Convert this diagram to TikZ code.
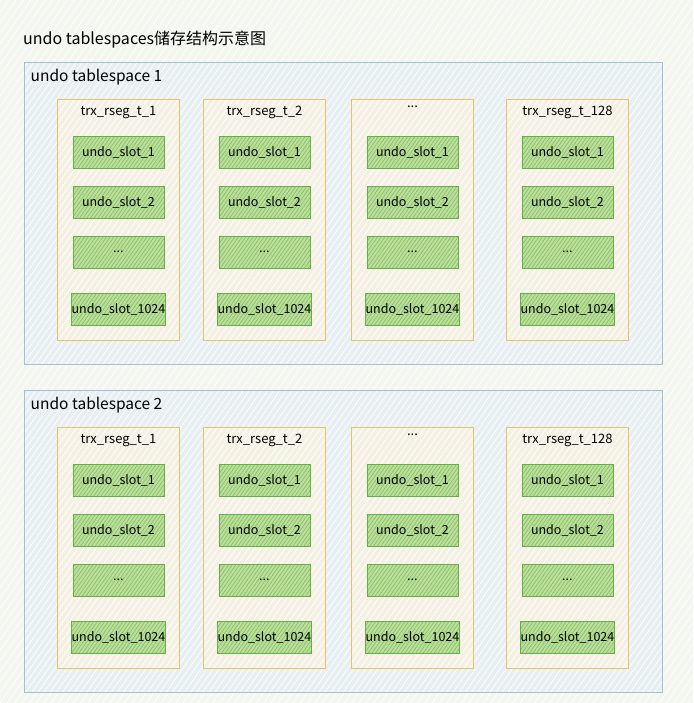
\documentclass[tikz,border=0pt]{standalone}
\usepackage{fontspec}
\setmainfont{Noto Sans CJK SC}
\usetikzlibrary{positioning,patterns.meta}

\definecolor{bgfill}{HTML}{F3F7EF}
\definecolor{spacefill}{HTML}{E7EFF2}
\definecolor{spaceline}{HTML}{A7BDD4}
\definecolor{rsegfill}{HTML}{F5F0E4}
\definecolor{rsegline}{HTML}{E5C468}
\definecolor{slotfill}{HTML}{BADE9C}
\definecolor{slotline}{HTML}{67AE4A}
\definecolor{slothatch}{HTML}{86BE5E}

\newcommand\rseg[4]{%
  \node[rsegbox] (#1) at (#2,#3) {};
  \node[rseghead, below=7pt of #1.north] (#1h) {#4};
  \node[slot, below=37pt of #1.north] (#1s1) {undo\_slot\_1};
  \node[slot, below=17pt of #1s1] (#1s2) {undo\_slot\_2};
  \node[slot, below=17pt of #1s2] (#1s3) {...};
  \node[slot, below=24pt of #1s3] (#1s4) {undo\_slot\_1024};
}

\begin{document}
\begin{tikzpicture}[x=1pt,y=-1pt]

\tikzset{hatch/.style 2 args={preaction={fill=#1},
  preaction={pattern={Lines[angle=55,distance=#2,line width=0.7pt]},pattern color=white}}}
\tikzset{spacebox/.style={draw=spaceline,hatch={spacefill}{5pt},line width=0.9pt,anchor=north west,
  minimum width=638pt,minimum height=302pt,inner sep=0pt}}
\tikzset{rsegbox/.style={draw=rsegline,hatch={rsegfill}{5pt},line width=0.9pt,anchor=north west,
  minimum width=122pt,minimum height=241pt,inner sep=0pt}}
\tikzset{slot/.style={draw=slotline,preaction={fill=slotfill},
  preaction={pattern={Lines[angle=55,distance=3pt,line width=0.6pt]},pattern color=slothatch},
  line width=0.9pt,anchor=north,minimum width=91pt,minimum height=32pt,inner sep=0pt,
  font=\fontsize{12.5}{14}\selectfont}}
\tikzset{rseghead/.style={anchor=north,inner sep=0pt,font=\fontsize{13}{15}\selectfont}}
\tikzset{label/.style={anchor=north west,inner sep=0pt,font=\fontsize{15.5}{18}\selectfont}}

\path[use as bounding box,hatch={bgfill}{6pt}] (0,0) rectangle (693,703);

\node[label,anchor=west,font=\fontsize{16}{18}\selectfont] (title) at (23,40) {undo tablespaces储存结构示意图};

% undo tablespace 1
\node[spacebox] (ts1) at (23.5,62) {};
\node[label, below right=7pt and 7pt of ts1.north west] (ts1l) {undo tablespace 1};
\rseg{a1}{57}{99}{trx\_rseg\_t\_1}
\rseg{a2}{203}{99}{trx\_rseg\_t\_2}
\rseg{a3}{351}{99}{...}
\rseg{a4}{506}{99}{trx\_rseg\_t\_128}

% undo tablespace 2
\node[spacebox] (ts2) at (23.5,390) {};
\node[label, below right=7pt and 7pt of ts2.north west] (ts2l) {undo tablespace 2};
\rseg{b1}{57}{427}{trx\_rseg\_t\_1}
\rseg{b2}{203}{427}{trx\_rseg\_t\_2}
\rseg{b3}{351}{427}{...}
\rseg{b4}{506}{427}{trx\_rseg\_t\_128}

\end{tikzpicture}
\end{document}
